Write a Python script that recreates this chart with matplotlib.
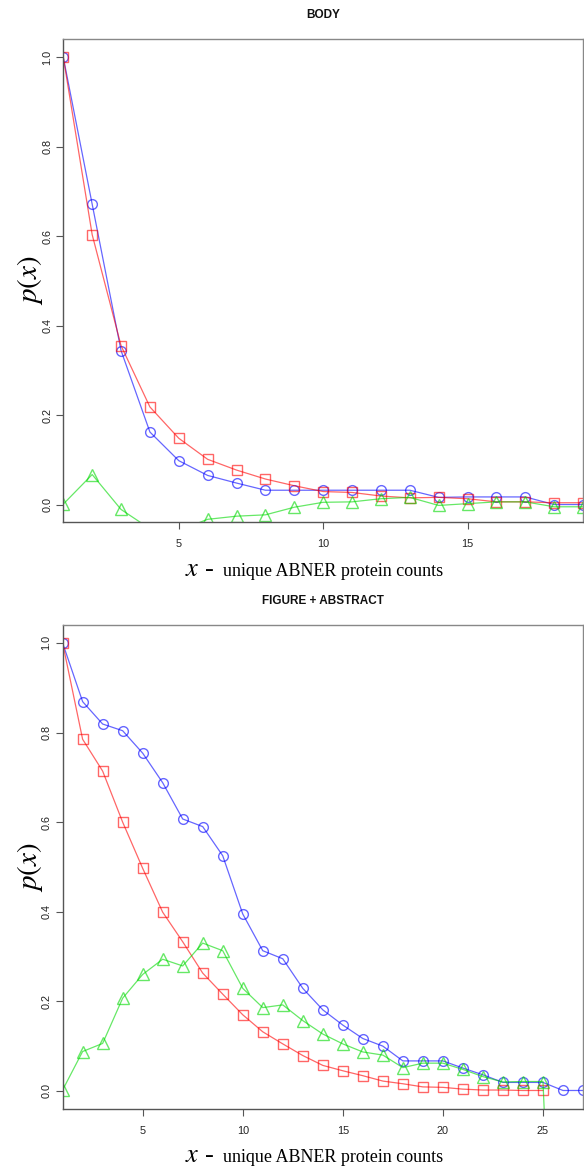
import matplotlib
matplotlib.use("Agg")
import matplotlib.pyplot as plt

# ---------------- data ----------------
body_x = list(range(1, 20))
body_blue = [1.0, 0.672, 0.345, 0.163, 0.099, 0.066, 0.049, 0.033, 0.033, 0.033,
             0.033, 0.033, 0.033, 0.017, 0.018, 0.018, 0.018, 0.001, 0.001]
body_red = [1.0, 0.604, 0.356, 0.219, 0.149, 0.102, 0.078, 0.058, 0.043, 0.030,
            0.028, 0.020, 0.016, 0.017, 0.014, 0.007, 0.007, 0.005, 0.005]
body_green = [0.002, 0.068, -0.010, -0.053, -0.057, -0.032, -0.025, -0.022, -0.005, 0.006,
              0.007, 0.014, 0.017, -0.001, 0.003, 0.007, 0.007, -0.004, -0.004]

fa_x_blue = list(range(1, 28))
fa_blue = [1.0, 0.869, 0.819, 0.804, 0.754, 0.688, 0.607, 0.590, 0.525, 0.395,
           0.313, 0.295, 0.229, 0.181, 0.147, 0.117, 0.100, 0.067, 0.067, 0.067,
           0.051, 0.036, 0.019, 0.019, 0.019, 0.001, 0.001]
fa_x_red = list(range(1, 26))
fa_red = [1.0, 0.785, 0.714, 0.600, 0.497, 0.399, 0.333, 0.263, 0.216, 0.170,
          0.132, 0.105, 0.079, 0.057, 0.045, 0.034, 0.022, 0.016, 0.009, 0.008,
          0.004, 0.002, 0.002, 0.001, 0.001]
fa_x_green = list(range(1, 27))
fa_green = [0.002, 0.088, 0.106, 0.207, 0.260, 0.294, 0.279, 0.330, 0.313, 0.229,
            0.186, 0.192, 0.157, 0.127, 0.105, 0.087, 0.080, 0.052, 0.062, 0.062,
            0.048, 0.032, 0.020, 0.021, 0.021, -1.0]

titles = ["BODY", "FIGURE + ABSTRACT"]
yticks = [0.0, 0.2, 0.4, 0.6, 0.8, 1.0]
xticks_body = [5, 10, 15]
xticks_fa = [5, 10, 15, 20, 25]
xlabel_var = r"$x$ -"
xlabel_text = "unique ABNER protein counts"
ylabel_text = r"$p(x)$"

# ---------------- style ----------------
plt.rcParams['mathtext.fontset'] = 'stix'
plt.rcParams['font.family'] = ['Liberation Sans', 'DejaVu Sans']

W, H = 584, 1166
fig = plt.figure(figsize=(W / 100, H / 100), dpi=100)

def add_axes(left, top, right, bottom):
    return fig.add_axes([left / W, 1 - bottom / H, (right - left) / W, (bottom - top) / H])

ax1 = add_axes(63.3, 39, 583, 522)
ax2 = add_axes(62.6, 625, 583, 1109.3)

RED = (1.0, 0.0, 0.0, 0.6)
BLUE = (0.0, 0.0, 1.0, 0.6)
GREEN = (0.0, 0.85, 0.0, 0.6)

def series(ax, x, y, color, marker, ms):
    ax.plot(x, y, color=color, lw=0.9, marker=marker, ms=ms, mfc='none',
            mec=color, mew=1.0)

def style(ax, title, xticks, xlim, ylim, height_px, width_px, label_baseline_px):
    ax.set_xlim(*xlim)
    ax.set_ylim(*ylim)
    ax.set_xticks(xticks)
    ax.set_yticks(yticks)
    ax.set_yticklabels([f"{v:.1f}" for v in yticks])
    ax.tick_params(axis='both', direction='out', length=5, width=0.8,
                   color='#555555', labelsize=7.8, labelcolor='#222222')
    ax.tick_params(axis='x', pad=7)
    ax.tick_params(axis='y', pad=3, labelrotation=90)
    for lab in ax.get_yticklabels():
        lab.set_va('center')
    for side, sp in ax.spines.items():
        sp.set_linewidth(1.0)
        sp.set_color('#888888' if side in ('top', 'right') else '#555555')
    ax.text(0.5, 1 + 24 / height_px, title, transform=ax.transAxes,
            ha='center', va='center', fontsize=8.5, fontweight='bold',
            color='#111111')
    yb = 1 - label_baseline_px / H
    fig.text(185 / W, yb, xlabel_var, fontsize=19, family='Liberation Serif',
             ha='left', va='baseline')
    fig.text(223 / W, yb, xlabel_text, fontsize=13, family='Liberation Serif',
             ha='left', va='baseline')
    ax.set_ylabel(ylabel_text, fontsize=21, va='center')
    ax.yaxis.set_label_coords(-33 / width_px, 0.5)

series(ax1, body_x, body_blue, BLUE, 'o', 7)
series(ax1, body_x, body_red, RED, 's', 6.7)
series(ax1, body_x, body_green, GREEN, '^', 8)
style(ax1, titles[0], xticks_body, (1, 19), (-0.038, 1.041), 483, 520, 575.7)

series(ax2, fa_x_blue, fa_blue, BLUE, 'o', 7)
series(ax2, fa_x_red, fa_red, RED, 's', 6.7)
series(ax2, fa_x_green, fa_green, GREEN, '^', 8)
style(ax2, titles[1], xticks_fa, (1, 27), (-0.041, 1.040), 484, 520, 1161.5)

fig.savefig("out.png", dpi=100)
